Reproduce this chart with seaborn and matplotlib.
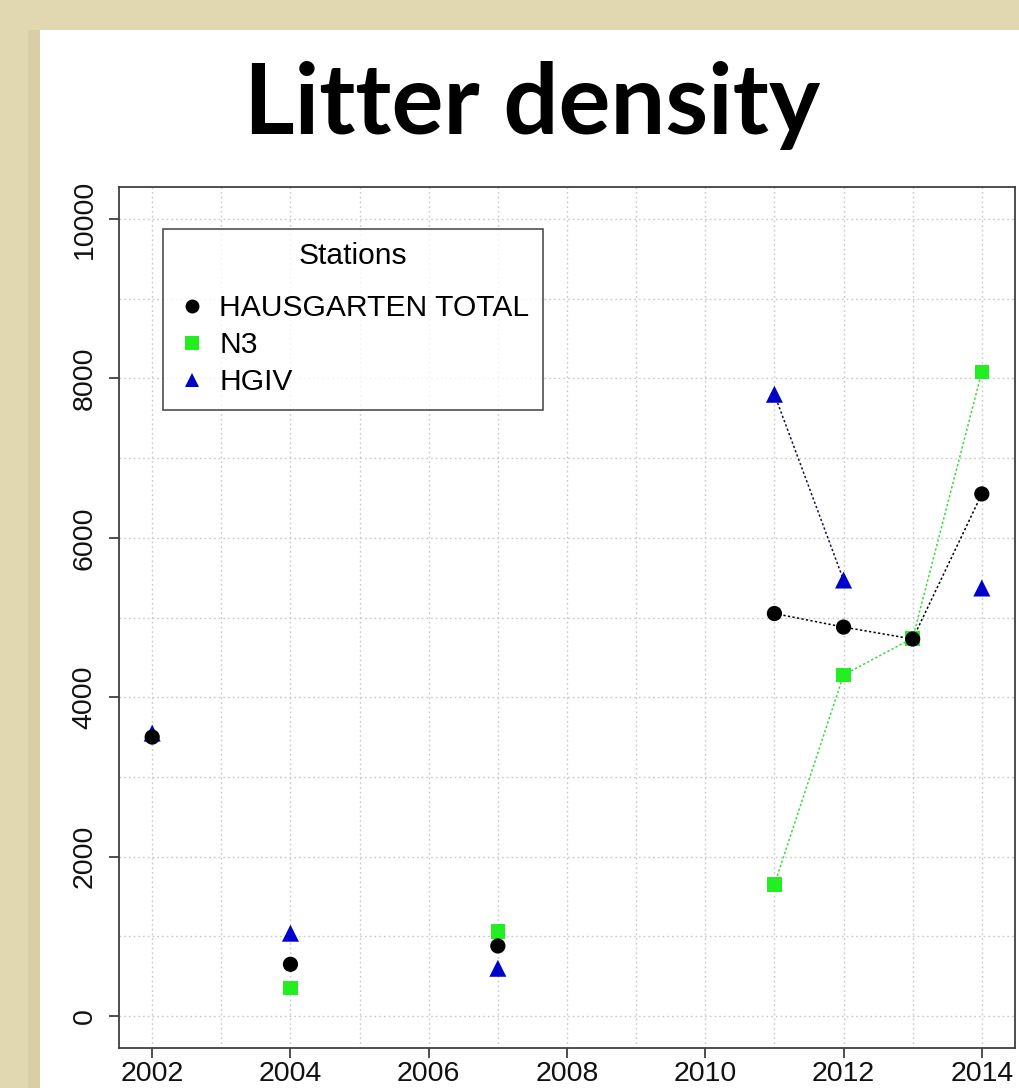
import numpy as np
import pandas as pd
import matplotlib
matplotlib.use("Agg")
import matplotlib.pyplot as plt
from matplotlib.patches import Rectangle
from matplotlib.lines import Line2D
import seaborn as sns

# Litter density per station and survey year (NaN = not sampled)
years = [2002, 2004, 2007, 2011, 2012, 2013, 2014]
hausgarten_total = [3500, 650, 880, 5050, 4880, 4730, 6550]
n3 = [np.nan, 350, 1060, 1650, 4280, 4740, 8080]
hgiv = [3550, 1040, 600, 7800, 5470, np.nan, 5370]

stations = ["HAUSGARTEN TOTAL", "N3", "HGIV"]
colors = {"HAUSGARTEN TOTAL": "#000000", "N3": "#22ee22", "HGIV": "#0000cc"}
line_colors = {"HAUSGARTEN TOTAL": "#000000", "N3": "#33dd33", "HGIV": "#101040"}
markers = {"HAUSGARTEN TOTAL": "o", "N3": "s", "HGIV": "^"}
marker_sizes = {"HAUSGARTEN TOTAL": 120, "N3": 110, "HGIV": 150}
draw_order = ["N3", "HGIV", "HAUSGARTEN TOTAL"]

df = pd.DataFrame({
    "year": years * 3,
    "density": hausgarten_total + n3 + hgiv,
    "station": [s for s in stations for _ in years],
})

sns.set_style("white")
plt.rcParams["font.family"] = ["Liberation Sans", "DejaVu Sans"]
plt.rcParams["text.color"] = "black"

fig = plt.figure(figsize=(10.19, 10.88), dpi=100)
fig.patch.set_facecolor("#e1d8b2")
# white slide panel behind the chart
fig.patches.append(Rectangle((40 / 1019, 0), 1, 1 - 30 / 1088,
                             transform=fig.transFigure, facecolor="white",
                             edgecolor="none", zorder=-10))
fig.patches.append(Rectangle((28 / 1019, 0), 12 / 1019, 1 - 30 / 1088,
                             transform=fig.transFigure, facecolor="#d8cfa6",
                             edgecolor="none", zorder=-10))

ax = fig.add_axes([119 / 1019, 1 - 1048 / 1088, (1015 - 119) / 1019, (1048 - 187) / 1088])
ax.set_zorder(5)
ax.set_facecolor("white")

# dotted grid at every year and every 1000
for gx in range(2002, 2015):
    ax.axvline(gx, color="#c8c8c8", lw=1.0, ls=(0, (1.2, 2.2)), zorder=0)
for gy in range(0, 11000, 1000):
    ax.axhline(gy, color="#c8c8c8", lw=1.0, ls=(0, (1.2, 2.2)), zorder=0)


def draw_segment(rows, st):
    if len(rows) > 1:
        sns.lineplot(data=pd.DataFrame(rows), x="year", y="density", ax=ax,
                     color=line_colors[st], lw=1.1, ls=(0, (1.5, 1.5)),
                     zorder=2, legend=False)


# connecting lines for consecutive recent surveys
for st in draw_order:
    sub = df[(df.station == st) & (df.year >= 2011)].reset_index(drop=True)
    seg = []
    for _, row in sub.iterrows():
        if np.isnan(row.density):
            draw_segment(seg, st)
            seg = []
        else:
            seg.append(row)
    draw_segment(seg, st)

for i, st in enumerate(draw_order):
    sub = df[df.station == st].dropna()
    sns.scatterplot(data=sub, x="year", y="density", ax=ax, marker=markers[st],
                    color=colors[st], s=marker_sizes[st], edgecolor="none",
                    zorder=3 + i, legend=False)

ax.set_xlim(2001.52, 2014.48)
ax.set_ylim(-400, 10400)
ax.set_xticks(range(2002, 2015, 2))
ax.set_yticks(range(0, 10001, 2000))
ax.set_xlabel("")
ax.set_ylabel("")
ax.tick_params(axis="both", which="major", labelsize=20.5, length=7.5, width=1.3,
               color="#404040", direction="out", labelcolor="#111111")
ax.tick_params(axis="x", bottom=True, pad=2)
ax.tick_params(axis="y", left=True, pad=8)
for lbl in ax.get_yticklabels():
    lbl.set_rotation(90)
    lbl.set_va("center")
for sp in ax.spines.values():
    sp.set_visible(True)
    sp.set_color("#404040")
    sp.set_linewidth(1.3)

handles = [Line2D([], [], ls="none", marker=markers[st], color=colors[st],
                  markersize=10, markeredgewidth=0)
           for st in stations]
leg = ax.legend(handles, stations, title="Stations", loc="upper left",
                bbox_to_anchor=(44 / 896, 1 - 42 / 861), fontsize=21.6,
                title_fontsize=21.6, frameon=True, fancybox=False,
                edgecolor="#222222", borderpad=0.45, handletextpad=0.42,
                labelspacing=0.3, handlelength=1.0, borderaxespad=0,
                labelcolor="black")
leg.get_frame().set_linewidth(1.2)
leg.get_title().set_color("black")
leg._legend_box.sep = 17

fig.text(532 / 1019, 1 - 105 / 1088, "Litter density", ha="center", va="center",
         fontsize=70, fontweight="bold", color="black",
         family=["Lato", "DejaVu Sans"])

fig.savefig("out.png", dpi=100, facecolor=fig.get_facecolor())
